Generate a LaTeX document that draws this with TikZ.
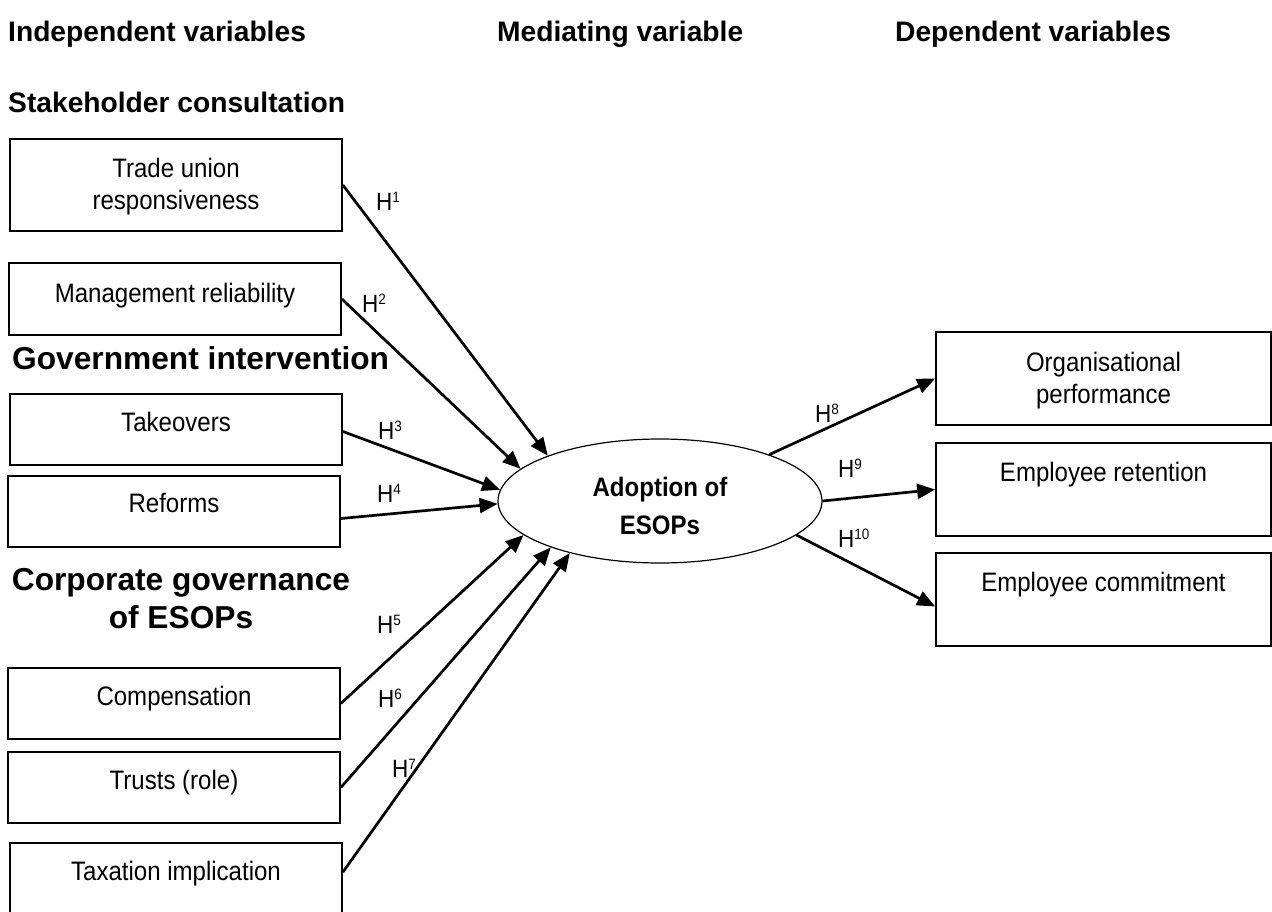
\documentclass[tikz,border=0pt]{standalone}
\usepackage{fontspec}
\setmainfont[FakeStretch=0.9]{Liberation Sans}
\newfontfamily\headfont{Liberation Sans}
\usetikzlibrary{arrows.meta,shapes.geometric,calc}
\newcommand\Hyp[1]{H\raisebox{8pt}{\fontsize{15}{15}\selectfont #1}}
\begin{document}
\begin{tikzpicture}[x=1pt,y=-1pt,
 box/.style={draw, line width=1.7pt, inner sep=0pt},
 txt/.style={font=\fontsize{26.7}{32}\selectfont, align=center, inner sep=0pt},
 hdr/.style={font=\fontsize{28.2}{34}\headfont\bfseries, anchor=base west, inner sep=0pt},
 sub/.style={font=\fontsize{31.7}{38}\headfont\bfseries, inner sep=0pt, align=center},
 hyp/.style={font=\fontsize{25}{28}\selectfont, anchor=base west, inner sep=0pt},
 arr/.style={line width=2.7pt, -{Triangle[length=18pt,width=15pt]}},
]
\useasboundingbox (0,0) rectangle (1272,911);
\clip (0,0) rectangle (1272,911);

% headers
\node[hdr] (h1) at (8,41) {Independent variables};
\node[hdr] (h2) at (497,41) {Mediating variable};
\node[hdr] (h3) at (895,41) {Dependent variables};
\node[hdr] (s1) at (8,112) {Stakeholder consultation};
\node[sub, anchor=base west] (s2) at (12,369) {Government intervention};
\node[sub] (s3) at (181,599) {Corporate governance\\of ESOPs};

% left boxes
\node[box, minimum width=332pt, minimum height=92pt] (tu) at (176,185) {};
\node[box, minimum width=332pt, minimum height=72pt] (mg) at (175,299) {};
\node[box, minimum width=332pt, minimum height=71pt] (tak) at (176,429.5) {};
\node[box, minimum width=332pt, minimum height=71pt] (ref) at (174,511.5) {};
\node[box, minimum width=332pt, minimum height=71pt] (comp) at (174,703.5) {};
\node[box, minimum width=332pt, minimum height=71pt] (tru) at (174,787.5) {};
\node[box, minimum width=332pt, minimum height=72pt] (tax) at (176,879) {};

\node[txt] (tut) at (176,187) {Trade union\\responsiveness};
\node[txt, anchor=base] (mgt) at (175,302) {Management reliability};
\node[txt, anchor=base] (takt) at (176,431) {Takeovers};
\node[txt, anchor=base] (reft) at (174,512) {Reforms};
\node[txt, anchor=base] (compt) at (174,705) {Compensation};
\node[txt, anchor=base] (trut) at (174,789) {Trusts (role)};
\node[txt, anchor=base] (taxt) at (176,880) {Taxation implication};

% ellipse
\node[draw, ellipse, line width=1.2pt, minimum width=324pt, minimum height=124pt, inner sep=0pt] (ad) at (660,501) {};
\node[txt, font=\fontsize{26.7}{38}\selectfont\bfseries] (adt) at (660,506) {Adoption of\\ESOPs};

% right boxes
\node[box, minimum width=335pt, minimum height=93pt] (org) at (1103.5,378.5) {};
\node[box, minimum width=335pt, minimum height=93pt] (ret) at (1103.5,489.5) {};
\node[box, minimum width=335pt, minimum height=93pt] (com) at (1103.5,599.5) {};
\node[txt] (orgt) at (1103.5,380.5) {Organisational\\performance};
\node[txt, anchor=base] (rett) at (1103.5,481) {Employee retention};
\node[txt, anchor=base] (comt) at (1103.5,591) {Employee commitment};

% arrows
\draw[arr] (tu.east) -- (ad.158.5);
\draw[arr] (mg.east) -- (ad.167.3);
\draw[arr] ($(tak.east)+(0,2)$) -- (ad.176.1);
\draw[arr] ($(ref.east)+(0,7)$) -- (ad.181.8);
\draw[arr] (comp.east) -- (ad.194.2);
\draw[arr] (tru.east) -- (ad.203.1);
\draw[arr] ($(tax.north east)+(0,30)$) -- (ad.210.8);
\draw[arr] (ad.23.7) -- (org.west);
\draw[arr] (ad.0) -- (ret.west);
\draw[arr] (ad.-14.5) -- ($(com.west)+(0,7)$);

% hypothesis labels
\node[hyp] (l1) at (376,210) {\Hyp{1}};
\node[hyp] (l2) at (362,312) {\Hyp{2}};
\node[hyp] (l3) at (378,439) {\Hyp{3}};
\node[hyp] (l4) at (377,502) {\Hyp{4}};
\node[hyp] (l5) at (377,633) {\Hyp{5}};
\node[hyp] (l6) at (378,707) {\Hyp{6}};
\node[hyp] (l7) at (392,777) {\Hyp{7}};
\node[hyp] (l8) at (815,422) {\Hyp{8}};
\node[hyp] (l9) at (838,477) {\Hyp{9}};
\node[hyp] (l10) at (838,547) {\Hyp{10}};
\end{tikzpicture}
\end{document}
